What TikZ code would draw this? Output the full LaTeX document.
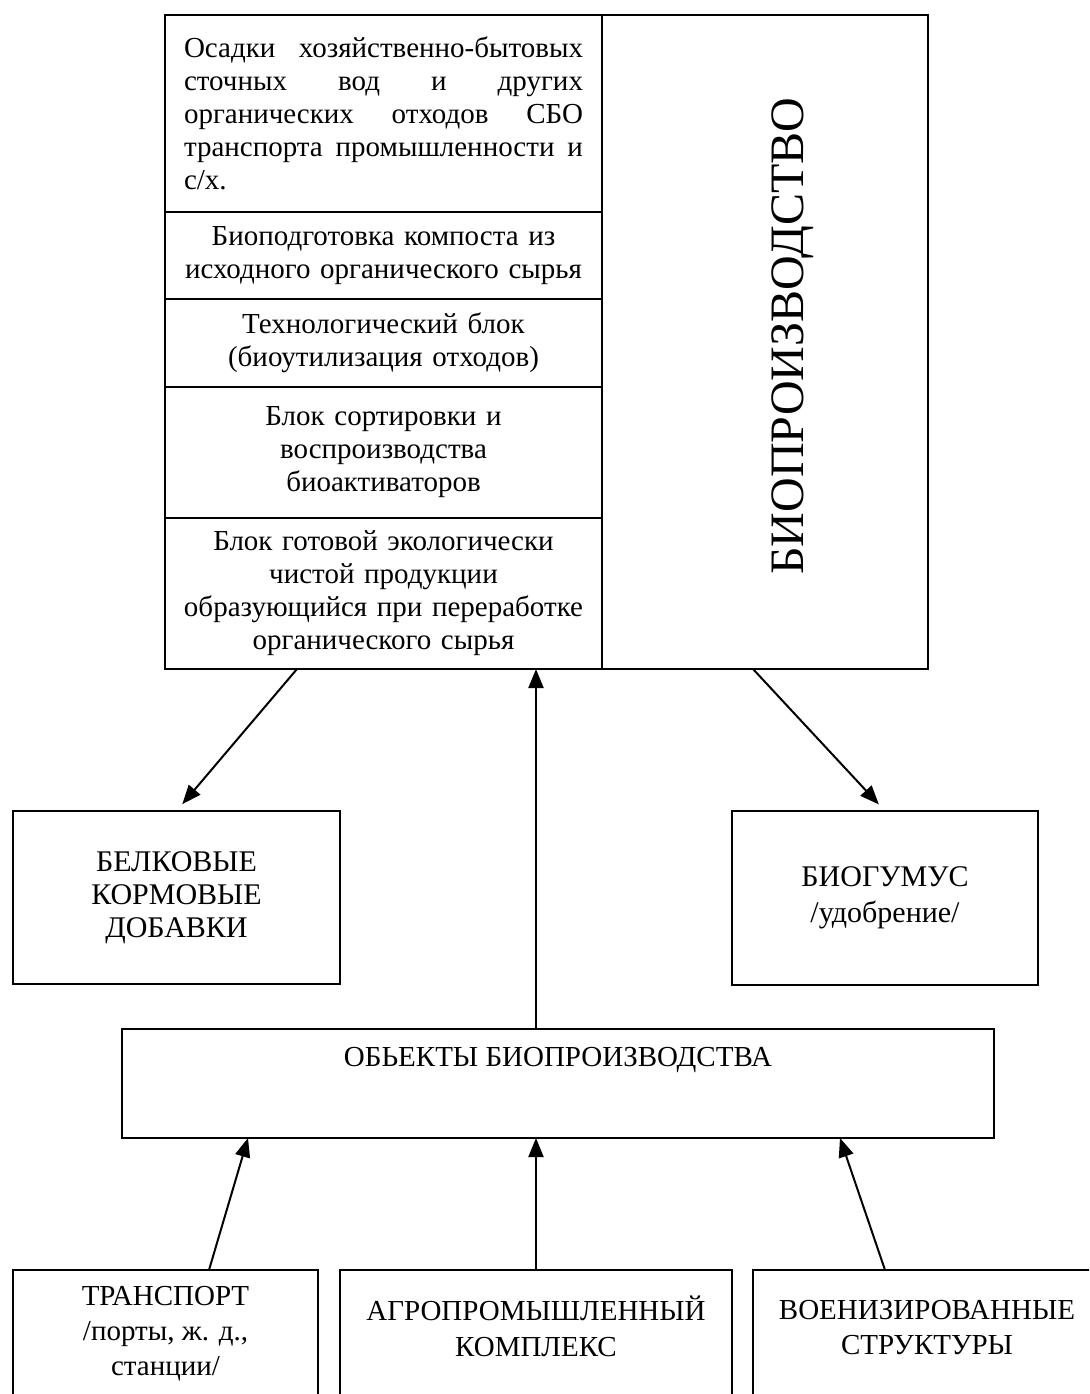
\documentclass[tikz,border=0pt]{standalone}
\usepackage{fontspec}
\setmainfont{Liberation Serif}
\usetikzlibrary{arrows.meta,positioning,calc}
\definecolor{Stroke}{HTML}{000000}

\begin{document}
\begin{tikzpicture}[
  x=0.5pt, y=-0.5pt,
  box/.style={draw=Stroke, line width=0.8pt, outer sep=0pt, inner sep=0pt, align=center, font=\fontsize{14.5}{16.5}\selectfont},
  row/.style={box, minimum width=218.5pt, text width=214pt},
  txt/.style={align=center, inner sep=0pt, font=\fontsize{14.5}{17.5}\selectfont},
  arr/.style={-{Triangle[length=9.5pt,width=7.5pt]}, Stroke, line width=1pt}
]
\useasboundingbox (0,0) rectangle (1089,1394);
\clip (0,0) rectangle (1089,1394);

\node[row, anchor=north west, minimum height=98.5pt, text width=199.5pt, align=justify] (S1) at (165,15)
  {Осадки хозяйственно-бытовых\linebreak сточных вод и других\linebreak органических отходов СБО\linebreak транспорта промышленности и\linebreak с/х.};
\node[row, below=0pt of S1, minimum height=43.5pt] (S2) {Биоподготовка компоста из\\исходного органического сырья};
\node[row, below=0pt of S2, minimum height=44pt] (S3) {Технологический блок\\(биоутилизация отходов)};
\node[row, below=0pt of S3, minimum height=65.5pt] (S4) {Блок сортировки и\\воспроизводства\\биоактиваторов};
\node[row, below=0pt of S4, minimum height=75.5pt] (S5) {Блок готовой экологически\\чистой продукции\\образующийся при переработке\\органического сырья};

\node[box, anchor=north west, minimum width=163pt, minimum height=327pt] (B) at (S1.north east) {};
\node[rotate=90, anchor=base, font=\fontsize{24}{28}\selectfont] (Bt) at ($(B.center)+(38,-6)$) {БИОПРОИЗВОДСТВО};

\node[box, anchor=north west, minimum width=163.5pt, minimum height=86.5pt, font=\fontsize{15}{16.5}\selectfont] (K) at (13,811) {БЕЛКОВЫЕ\\КОРМОВЫЕ\\ДОБАВКИ};
\node[box, anchor=north west, minimum width=153pt, minimum height=87pt, font=\fontsize{15}{18}\selectfont] (G) at (732,811) {БИОГУМУС\\/удобрение/};

\node[box, anchor=north west, minimum width=436pt, minimum height=54.5pt, text height=9.5pt, text depth=27pt] (O) at (122,1029) {ОБЬЕКТЫ БИОПРОИЗВОДСТВА};

\node[box, anchor=north west, minimum width=152.5pt, minimum height=100pt] (T) at (13,1270) {};
\node[box, anchor=north west, minimum width=196pt, minimum height=100pt] (A) at (340,1270) {};
\node[box, anchor=north west, minimum width=174pt, minimum height=100pt] (V) at (753,1270) {};
\node[txt, below=8pt of T.north] (Tt) {ТРАНСПОРТ\\/порты, ж. д.,\\станции/};
\node[txt, below=13pt of A.north] (At) {АГРОПРОМЫШЛЕННЫЙ\\КОМПЛЕКС};
\node[txt, below=15pt of V.north] (Vt) {ВОЕНИЗИРОВАННЫЕ\\СТРУКТУРЫ};

\draw[arr, shorten >=4.5pt] ($(S5.south west)+(132,0)$) -- (K.north);
\draw[arr, shorten >=4.5pt] ($(B.south west)+(151,0)$) -- (G.north);
\draw[arr] (O.north -| A.north) -- (S5.south -| A.north);
\draw[arr] (A.north) -- (O.south -| A.north);
\draw[arr] ($(T.north)+(43.5,0)$) -- ($(O.south west)+(126,0)$);
\draw[arr] ($(V.north)+(-42,0)$) -- ($(O.south west)+(718,0)$);
\end{tikzpicture}
\end{document}
